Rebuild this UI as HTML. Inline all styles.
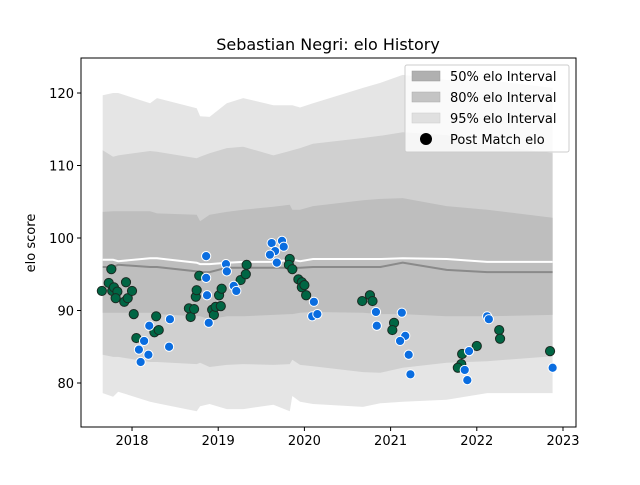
<!DOCTYPE html>
<html><head><meta charset="utf-8"><style>
html,body{margin:0;padding:0;background:#fff;}
svg text{font-family:"DejaVu Sans","Liberation Sans",sans-serif;}
</style></head><body>
<svg id="chart" width="640" height="480" viewBox="0 0 640 480" xmlns="http://www.w3.org/2000/svg">
<rect width="640" height="480" fill="#fff"/>
<g id="bands"></g>
<g id="lines"></g>
<g id="points"></g>
<rect x="81" y="58" width="495" height="369" fill="none" stroke="#000" stroke-width="1"/>
<g id="axes"></g>
<text x="328" y="50" text-anchor="middle" font-size="16">Sebastian Negri: elo History</text>
<text transform="translate(35,243) rotate(-90)" text-anchor="middle" font-size="13">elo score</text>
<g>
<rect x="405" y="65" width="164" height="87" rx="2" fill="#fff" fill-opacity="0.8" stroke="#ccc"/>
<rect x="412" y="71" width="28" height="10" fill="#b0b0b0" stroke="#999" stroke-width="0.5"/>
<text x="450" y="81" font-size="13">50% elo Interval</text>
<rect x="412" y="92" width="28" height="10" fill="#c4c4c4" stroke="#aaa" stroke-width="0.5"/>
<text x="450" y="102" font-size="13">80% elo Interval</text>
<rect x="412" y="113" width="28" height="10" fill="#e0e0e0" stroke="#ccc" stroke-width="0.5"/>
<text x="450" y="123" font-size="13">95% elo Interval</text>
<circle cx="426" cy="139" r="6" fill="#000"/>
<text x="450" y="144" font-size="13">Post Match elo</text>
</g>
</svg>
<script>
const gridDates=[2017.66,2017.78,2017.84,2018.21,2018.29,2018.75,2018.79,2018.90,2019.10,2019.29,2019.64,2019.83,2019.86,2019.95,2020.10,2020.68,2020.88,2021.14,2021.65,2022.12,2022.88];
const p95Upper=[119.7,120.0,120.0,118.6,119.3,117.9,116.8,116.7,118.6,119.3,118.3,118.3,118.3,118.0,118.6,120.7,121.4,122.5,121.8,121.8,120.7];
const p80Upper=[112.1,111.2,111.4,112.0,111.9,111.0,111.2,111.7,112.4,112.6,111.4,112.0,112.1,112.4,113.0,113.8,114.1,114.6,114.2,112.8,111.7];
const p50Upper=[103.6,103.7,103.7,103.7,103.4,103.2,102.3,103.2,103.6,103.9,104.3,104.6,103.9,103.9,104.4,105.2,105.4,105.5,104.4,103.9,102.8];
const p50Lower=[89.7,89.7,89.7,89.7,89.5,89.2,89.2,88.8,89.2,89.2,89.4,89.5,89.5,89.7,89.8,89.7,89.5,89.5,89.2,89.2,89.4];
const p80Lower=[83.9,83.6,83.6,82.9,82.9,82.6,82.8,82.2,82.5,82.6,82.5,82.6,83.2,82.5,82.3,81.5,81.4,82.1,82.8,83.0,83.7];
const p95Lower=[78.6,78.1,78.8,77.4,77.2,76.1,76.8,77.1,76.4,76.4,77.0,76.1,78.2,77.4,77.1,76.7,77.2,77.4,77.7,78.6,78.6];
const medianLine=[96.0,96.0,96.3,96.0,96.0,95.4,95.3,95.3,95.9,95.9,95.9,95.9,95.9,95.9,96.0,96.0,96.0,96.6,95.6,95.3,95.3];
const meanLine=[97.0,97.0,96.8,97.2,97.2,96.6,96.4,96.4,96.6,96.7,96.7,97.0,97.0,96.8,97.1,97.1,97.1,97.2,97.1,96.7,96.7];
const winDates=[2017.65,2017.76,2017.73,2017.77,2017.79,2017.83,2017.81,2017.91,2017.95,2017.93,2018.0,2018.02,2018.05,2018.28,2018.26,2018.31,2018.68,2018.66,2018.72,2018.74,2018.75,2018.78,2018.93,2018.95,2018.97,2019.03,2019.01,2019.04,2019.26,2019.32,2019.33,2019.83,2019.82,2019.86,2019.93,2019.97,2019.97,2020.0,2020.02,2020.76,2020.67,2020.79,2021.04,2021.02,2021.83,2022.0,2021.82,2021.78,2022.26,2022.27,2022.85];
const winElo=[92.7,95.7,93.8,92.7,93.2,92.6,91.7,91.2,91.7,93.9,92.7,89.5,86.2,89.2,87.0,87.3,89.1,90.3,90.2,91.9,92.8,94.8,90.1,89.4,90.5,90.6,92.1,93.0,94.2,95.0,96.3,97.1,96.3,95.7,94.3,93.9,93.2,93.5,92.1,92.1,91.3,91.3,88.3,87.3,84.0,85.1,82.6,82.1,87.3,86.1,84.4];
const lossDates=[2018.86,2019.09,2019.10,2018.86,2018.87,2019.18,2019.21,2018.89,2018.44,2018.20,2018.14,2018.08,2018.19,2018.10,2018.43,2019.62,2019.74,2019.76,2019.66,2019.60,2019.68,2020.11,2020.09,2020.15,2020.83,2020.84,2021.13,2021.17,2021.11,2021.21,2021.23,2022.12,2022.14,2021.91,2021.86,2021.89,2022.88];
const lossElo=[97.5,96.4,95.4,94.5,92.1,93.4,92.7,88.3,88.8,87.9,85.8,84.6,83.9,82.9,85.0,99.3,99.6,98.8,98.2,97.7,96.6,91.2,89.2,89.5,89.8,87.9,89.7,86.5,85.8,83.9,81.2,89.2,88.8,84.4,81.8,80.4,82.1];
const xTicks=[2018,2019,2020,2021,2022,2023];
const yTicks=[80,90,100,110,120];

const NS='http://www.w3.org/2000/svg';
const X0=81,X1=576,Y0=58,Y1=427,D0=2017.408,D1=2023.151,E0=73.93,E1=124.83;
function xs(d){return X0+(d-D0)/(D1-D0)*(X1-X0);}
function ys(v){return Y1-(v-E0)/(E1-E0)*(Y1-Y0);}
function mk(tag,attrs,parent){const e=document.createElementNS(NS,tag);for(const k in attrs)e.setAttribute(k,attrs[k]);parent.appendChild(e);return e;}
function band(up,lo,fill,name){
  let d='M'+gridDates.map((t,i)=>xs(t).toFixed(1)+','+ys(up[i]).toFixed(1)).join('L');
  for(let i=gridDates.length-1;i>=0;i--)d+='L'+xs(gridDates[i]).toFixed(1)+','+ys(lo[i]).toFixed(1);
  const p=mk('path',{d:d+'Z',fill:fill},document.getElementById('bands'));
  
  
}
band(p95Upper,p95Lower,'#e5e5e5','band-95');
band(p80Upper,p80Lower,'#d0d0d0','band-80');
band(p50Upper,p50Lower,'#bebebe','band-50');
function line(vals,color,name){
  const d='M'+gridDates.map((t,i)=>xs(t).toFixed(1)+','+ys(vals[i]).toFixed(1)).join('L');
  const p=mk('path',{d:d,fill:'none',stroke:color,'stroke-width':2},document.getElementById('lines'));
  
  
}
line(medianLine,'#8a8a8a','median-line');
line(meanLine,'#ffffff','mean-line');
const pts=document.getElementById('points');
winDates.forEach((t,i)=>{
  const c=mk('circle',{cx:xs(t),cy:ys(winElo[i]),r:4.6,fill:'#006644',stroke:'#1a2a22','stroke-width':1},pts);
  
  
});
lossDates.forEach((t,i)=>{
  const c=mk('circle',{cx:xs(t),cy:ys(lossElo[i]),r:4.6,fill:'#0a6de0',stroke:'#ffffff','stroke-width':1},pts);
  
  
});
const ax=document.getElementById('axes');
xTicks.forEach(t=>{
  const x=xs(t);
  const l=mk('line',{x1:x,x2:x,y1:Y1,y2:Y1+4,stroke:'#000'},ax);
  
  
  const tx=mk('text',{x:x,y:Y1+18,'text-anchor':'middle','font-size':13},ax);
  
  
  tx.textContent=t;
});
yTicks.forEach(v=>{
  const y=ys(v);
  const l=mk('line',{x1:X0-4,x2:X0,y1:y,y2:y,stroke:'#000'},ax);
  
  
  const tx=mk('text',{x:X0-7,y:y+5,'text-anchor':'end','font-size':13},ax);
  
  
  tx.textContent=v;
});
</script>
</body></html>
